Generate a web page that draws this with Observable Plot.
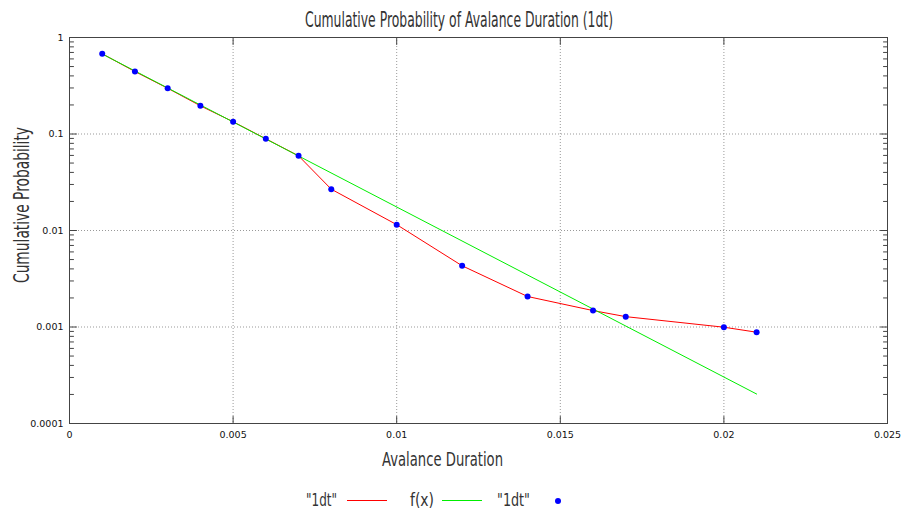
<!DOCTYPE html>
<html>
<head>
<meta charset="utf-8">
<script src="https://cdn.jsdelivr.net/npm/d3@7"></script>
<script src="https://cdn.jsdelivr.net/npm/@observablehq/plot@0.6"></script>
<style>
  html, body { margin: 0; padding: 0; background: #fff; }
  svg { display: block; }
</style>
</head>
<body>
<div id="chart"></div>
<script>
// ---- data ----
const durations = [0.001, 0.002, 0.003, 0.004, 0.005, 0.006, 0.007, 0.008, 0.010, 0.012, 0.014, 0.016, 0.017, 0.020, 0.021];
const cumProb   = [0.678, 0.444, 0.298, 0.196, 0.134, 0.0892, 0.0594, 0.0268, 0.0115, 0.00431, 0.00207, 0.00148, 0.00128, 0.000995, 0.000883];
const fitX = [0.001, 0.021];
const fitY = [0.675, 0.000202];
const xTicks = [0, 0.005, 0.01, 0.015, 0.02, 0.025];
const xTickLabels = ["0", "0.005", "0.01", "0.015", "0.02", "0.025"];
const yTicks = [1, 0.1, 0.01, 0.001, 0.0001];
const yTickLabels = ["1", "0.1", "0.01", "0.001", "0.0001"];
const yMinor = [0.2,0.3,0.4,0.5,0.6,0.7,0.8,0.9, 0.02,0.03,0.04,0.05,0.06,0.07,0.08,0.09,
                0.002,0.003,0.004,0.005,0.006,0.007,0.008,0.009, 0.0002,0.0003,0.0004,0.0005,0.0006,0.0007,0.0008,0.0009];
const titleText = "Cumulative Probability of Avalance Duration (1dt)";
const xLabelText = "Avalance Duration";
const yLabelText = "Cumulative Probability";
const legendLabels = ['"1dt"', 'f(x)', '"1dt"'];

const data = durations.map((d, i) => ({x: d, y: cumProb[i]}));
const fit = fitX.map((d, i) => ({x: d, y: fitY[i]}));

const gridStyle = {stroke: "#999", strokeOpacity: 1, strokeDasharray: "1,2", strokeWidth: 1};
// a plain tick: a straight segment pointing "up" before rotation
const tickShape = {draw(ctx, l) { ctx.moveTo(0, 0); ctx.lineTo(0, -l); }};
const tk = (len, rot, anchor) => ({length: len, rotate: rot, anchor: "start", shape: tickShape, frameAnchor: anchor, stroke: "#444", strokeWidth: 1});

const svg = Plot.plot({
  width: 903,
  height: 516,
  marginTop: 37,
  marginLeft: 69,
  marginRight: 16,
  marginBottom: 93,
  style: {fontFamily: "DejaVu Sans", fontSize: "9.5px", color: "#111", background: "#fff"},
  x: {domain: [0, 0.025], axis: null, label: null},
  y: {type: "log", domain: [0.0001, 1], axis: null, label: null},
  marks: [
    Plot.gridX(xTicks.slice(1, -1), gridStyle),
    Plot.gridY(yTicks.slice(1, -1), gridStyle),
    Plot.frame({stroke: "#444", strokeWidth: 1}),
    // inward ticks on all four sides
    Plot.vector(yTicks, {y: d => d, ...tk(7, 90, "left")}),
    Plot.vector(yMinor, {y: d => d, ...tk(4, 90, "left")}),
    Plot.vector(yTicks, {y: d => d, ...tk(7, -90, "right")}),
    Plot.vector(yMinor, {y: d => d, ...tk(4, -90, "right")}),
    Plot.vector(xTicks, {x: d => d, ...tk(7, 0, "bottom")}),
    Plot.vector(xTicks, {x: d => d, ...tk(7, 180, "top")}),
    // tick labels
    Plot.text(yTicks, {y: d => d, text: (d, i) => yTickLabels[i], frameAnchor: "left", dx: -6, textAnchor: "end", fill: "#111"}),
    Plot.text(xTicks, {x: d => d, text: (d, i) => xTickLabels[i], frameAnchor: "bottom", dy: 8, lineAnchor: "top", fill: "#111"}),
    // series
    Plot.line(data, {x: "x", y: "y", stroke: "#ff0000", strokeWidth: 1}),
    Plot.line(fit, {x: "x", y: "y", stroke: "#00ee00", strokeWidth: 1}),
    Plot.dot(data, {x: "x", y: "y", r: 3, fill: "#0000ff", stroke: "none"})
  ]
});

document.getElementById("chart").appendChild(svg);

// ---- titles, axis labels, legend (narrow, tall gnuplot-style text) ----
const s = d3.select(svg);
const big = (sel, size, len) => sel
  .attr("font-family", "DejaVu Sans")
  .attr("font-size", size)
  .attr("fill", "#333")
  .attr("text-anchor", "start")
  .attr("textLength", len)
  .attr("lengthAdjust", "spacingAndGlyphs");

big(s.append("text").attr("x", 305).attr("y", 27).text(titleText), 22, 308);
big(s.append("text").attr("x", 382).attr("y", 466).text(xLabelText), 20, 121);
big(s.append("text").attr("transform", "translate(29,283) rotate(-90)").text(yLabelText), 21, 156);

const leg = s.append("g");
big(leg.append("text").attr("x", 306).attr("y", 506).text(legendLabels[0]), 18, 31);
leg.append("line").attr("x1", 347).attr("x2", 387).attr("y1", 500.5).attr("y2", 500.5).attr("stroke", "#ff0000");
big(leg.append("text").attr("x", 410).attr("y", 506).text(legendLabels[1]), 18, 24);
leg.append("line").attr("x1", 442).attr("x2", 482).attr("y1", 500.5).attr("y2", 500.5).attr("stroke", "#00ee00");
big(leg.append("text").attr("x", 497).attr("y", 506).text(legendLabels[2]), 18, 33);
leg.append("circle").attr("cx", 558).attr("cy", 501).attr("r", 3).attr("fill", "#0000ff");
</script>
</body>
</html>
